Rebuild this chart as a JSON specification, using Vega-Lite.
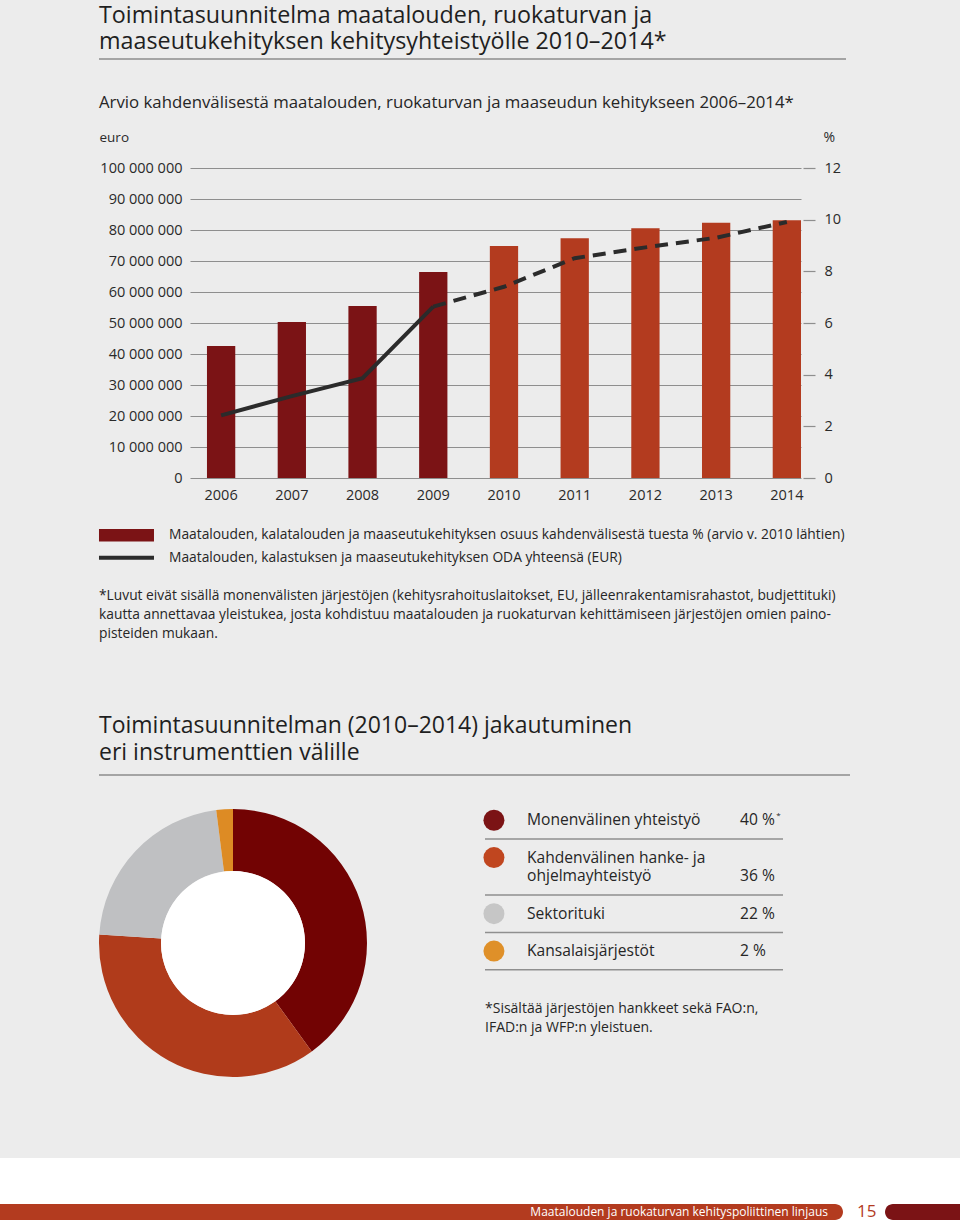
{
  "$schema": "https://vega.github.io/schema/vega-lite/v6.json",
  "background": "#ececec",
  "padding": {"top": 3, "left": 0, "right": 0, "bottom": 0},
  "config": {
    "view": {"stroke": null},
    "font": "Open Sans",
    "locale": {"number": {"decimal": ",", "thousands": " ", "grouping": [3], "currency": ["", " €"]}},
    "title": {"font": "Open Sans", "fontWeight": "normal", "color": "#1f1f1f", "anchor": "start"},
    "axis": {"labelFont": "Open Sans", "titleFont": "Open Sans", "labelColor": "#2a2a2a", "titleColor": "#2a2a2a", "titleFontWeight": "normal"},
    "text": {"font": "Open Sans", "color": "#262626"}
  },
  "spacing": 81,
  "resolve": {"scale": {"color": "independent", "fill": "independent", "shape": "independent"}},
  "vconcat": [
    {
      "spacing": 0,
      "resolve": {"scale": {"color": "independent", "fill": "independent", "shape": "independent"}},
      "hconcat": [
        {"width": 98, "height": 10, "data": {"values": [{}]}, "mark": {"type": "text"}, "encoding": {"text": {"value": ""}}},
        {
          "columns": 1,
          "spacing": 0,
          "resolve": {"scale": {"color": "independent", "fill": "independent", "shape": "independent"}},
          "concat": [
            {
              "width": 747,
              "height": 35.6,
              "title": {"text": ["Toimintasuunnitelma maatalouden, ruokaturvan ja", "maaseutukehityksen kehitysyhteistyölle 2010–2014*"], "anchor": "start", "frame": "group", "fontSize": 23.3, "lineHeight": 26, "baseline": "top", "offset": 4},
              "data": {"values": [{}]},
              "mark": {"type": "rule", "color": "#8c8c8c", "strokeWidth": 1.5},
              "encoding": {"y": {"datum": 1, "type": "quantitative", "scale": {"domain": [0, 1]}, "axis": null}}
            },
            {
              "spacing": 0,
              "bounds": "flush",
              "resolve": {"scale": {"color": "independent", "fill": "independent", "shape": "independent"}},
              "hconcat": [
                {"width": 91, "height": 10, "data": {"values": [{}]}, "mark": {"type": "text"}, "encoding": {"text": {"value": ""}}},
                {
                  "width": 611,
                  "height": 310,
                  "title": {"text": "Arvio kahdenvälisestä maatalouden, ruokaturvan ja maaseudun kehitykseen 2006–2014*", "frame": "bounds", "anchor": "start", "fontSize": 16.8, "baseline": "alphabetic", "offset": 5, "color": "#262626"},
                  "data": {"values": [
                    {"year": 2006, "pct": 5.11, "eur": 20200000, "period": "2006–2009"},
                    {"year": 2007, "pct": 6.04, "eur": 26400000, "period": "2006–2009"},
                    {"year": 2008, "pct": 6.66, "eur": 32200000, "period": "2006–2009"},
                    {"year": 2009, "pct": 7.97, "eur": 55300000, "period": "2006–2009"},
                    {"year": 2010, "pct": 8.98, "eur": 61700000, "period": "2010–2014"},
                    {"year": 2011, "pct": 9.28, "eur": 70900000, "period": "2010–2014"},
                    {"year": 2012, "pct": 9.67, "eur": 74400000, "period": "2010–2014"},
                    {"year": 2013, "pct": 9.88, "eur": 77500000, "period": "2010–2014"},
                    {"year": 2014, "pct": 9.98, "eur": 82600000, "period": "2010–2014"}
                  ]},
                  "encoding": {
                    "x": {"field": "year", "type": "ordinal", "scale": {"paddingInner": 0.6, "paddingOuter": 0.12, "align": 1}, "axis": {"title": null, "labelAngle": 0, "ticks": false, "tickSize": 0, "domain": false, "labelPadding": 10, "labelFontSize": 14.5}}
                  },
                  "layer": [
                    {
                      "mark": {"type": "bar"},
                      "encoding": {
                        "y": {"field": "pct", "type": "quantitative", "scale": {"domain": [0, 12], "nice": false}, "axis": {"orient": "right", "values": [0, 2, 4, 6, 8, 10, 12], "grid": false, "domain": false, "ticks": true, "tickSize": 12, "tickColor": "#8e8e8e", "tickWidth": 1.2, "offset": 2, "labelPadding": 9, "labelFontSize": 14.5, "title": "%", "titleAngle": 0, "titleX": 20, "titleY": -27, "titleAlign": "left", "titleBaseline": "alphabetic", "titleFontSize": 14}},
                        "color": {"field": "period", "type": "nominal", "scale": {"domain": ["2006–2009", "2010–2014"], "range": ["#7b1315", "#b33b1f"]}, "legend": null}
                      }
                    },
                    {
                      "encoding": {
                        "y": {"field": "eur", "type": "quantitative", "scale": {"domain": [0, 100000000], "nice": false}, "axis": {"orient": "left", "values": [0, 10000000, 20000000, 30000000, 40000000, 50000000, 60000000, 70000000, 80000000, 90000000, 100000000], "format": ",d", "grid": true, "gridColor": "#8e8e8e", "gridWidth": 1.2, "domain": false, "ticks": false, "tickSize": 0, "labelPadding": 8, "labelFontSize": 14.5, "title": "euro", "titleAngle": 0, "titleX": -91, "titleY": -27, "titleAlign": "left", "titleBaseline": "alphabetic", "titleFontSize": 13.5}}
                      },
                      "layer": [
                        {"transform": [{"filter": "datum.year <= 2009"}], "mark": {"type": "line", "color": "#2b2b2b", "strokeWidth": 4}},
                        {"transform": [{"filter": "datum.year >= 2009"}], "mark": {"type": "line", "color": "#2b2b2b", "strokeWidth": 4, "strokeDash": [13, 8]}}
                      ]
                    }
                  ],
                  "resolve": {"scale": {"y": "independent"}}
                }
              ]
            },
            {"width": 10, "height": 21.75, "data": {"values": [{}]}, "mark": {"type": "point", "opacity": 0}},
            {
              "width": 747,
              "height": 45,
              "data": {"values": [
                {"series": "Maatalouden, kalatalouden ja maaseutukehityksen osuus kahdenvälisestä tuesta % (arvio v. 2010 lähtien)"},
                {"series": "Maatalouden, kalastuksen ja maaseutukehityksen ODA yhteensä (EUR)"}
              ]},
              "encoding": {
                "y": {"field": "series", "type": "nominal", "scale": {"type": "point", "domain": ["Maatalouden, kalatalouden ja maaseutukehityksen osuus kahdenvälisestä tuesta % (arvio v. 2010 lähtien)", "Maatalouden, kalastuksen ja maaseutukehityksen ODA yhteensä (EUR)"], "padding": 0.5}, "axis": null}
              },
              "layer": [
                {
                  "mark": {"type": "point", "filled": true, "opacity": 1, "size": 3025, "strokeWidth": 0},
                  "encoding": {
                    "x": {"datum": 0.0368, "type": "quantitative", "scale": {"domain": [0, 1]}, "axis": null},
                    "fill": {"field": "series", "type": "nominal", "scale": {"domain": ["Maatalouden, kalatalouden ja maaseutukehityksen osuus kahdenvälisestä tuesta % (arvio v. 2010 lähtien)", "Maatalouden, kalastuksen ja maaseutukehityksen ODA yhteensä (EUR)"], "range": ["#7b1315", "#2b2b2b"]}, "legend": null},
                    "shape": {"field": "series", "type": "nominal", "scale": {"domain": ["Maatalouden, kalatalouden ja maaseutukehityksen osuus kahdenvälisestä tuesta % (arvio v. 2010 lähtien)", "Maatalouden, kalastuksen ja maaseutukehityksen ODA yhteensä (EUR)"], "range": ["M-1,-0.227H1V0.227H-1Z", "M-1,-0.073H1V0.073H-1Z"]}, "legend": null}
                  }
                },
                {
                  "mark": {"type": "text", "align": "left", "baseline": "middle", "fontSize": 13.8},
                  "encoding": {
                    "x": {"datum": 0.0937, "type": "quantitative"},
                    "text": {"field": "series"}
                  }
                }
              ]
            },
            {"width": 10, "height": 19.95, "data": {"values": [{}]}, "mark": {"type": "point", "opacity": 0}},
            {
              "width": 747,
              "height": 55,
              "data": {"values": [{"text": ["*Luvut eivät sisällä monenvälisten järjestöjen (kehitysrahoituslaitokset, EU, jälleenrakentamisrahastot, budjettituki)", "kautta annettavaa yleistukea, josta kohdistuu maatalouden ja ruokaturvan kehittämiseen järjestöjen omien paino-", "pisteiden mukaan."]}]},
              "mark": {"type": "text", "align": "left", "baseline": "top", "fontSize": 13.8, "lineHeight": 18.75},
              "encoding": {
                "text": {"field": "text"},
                "x": {"datum": 0, "type": "quantitative", "scale": {"domain": [0, 1]}, "axis": null},
                "y": {"datum": 1, "type": "quantitative", "scale": {"domain": [0, 1]}, "axis": null}
              }
            },
            {"width": 10, "height": 70.3, "data": {"values": [{}]}, "mark": {"type": "point", "opacity": 0}},
            {
              "width": 751,
              "height": 34,
              "title": {"text": ["Toimintasuunnitelman (2010–2014) jakautuminen", "eri instrumenttien välille"], "anchor": "start", "frame": "group", "fontSize": 23, "lineHeight": 27, "baseline": "top", "offset": 9},
              "data": {"values": [{}]},
              "mark": {"type": "rule", "color": "#8c8c8c", "strokeWidth": 1.5},
              "encoding": {"y": {"datum": 1, "type": "quantitative", "scale": {"domain": [0, 1]}, "axis": null}}
            },
            {
              "spacing": 116,
              "resolve": {"scale": {"color": "independent", "fill": "independent", "shape": "independent"}},
              "hconcat": [
                {
                  "width": 268,
                  "height": 268,
                  "layer": [
                    {
                      "data": {"values": [
                        {"cat": "Monenvälinen yhteistyö", "share": 40, "order": 1},
                        {"cat": "Kahdenvälinen hanke- ja ohjelmayhteistyö", "share": 36, "order": 2},
                        {"cat": "Sektorituki", "share": 22, "order": 3},
                        {"cat": "Kansalaisjärjestöt", "share": 2, "order": 4}
                      ]},
                      "mark": {"type": "arc", "outerRadius": 134, "innerRadius": 72},
                      "encoding": {
                        "theta": {"field": "share", "type": "quantitative", "stack": true},
                        "order": {"field": "order", "type": "quantitative"},
                        "color": {"field": "cat", "type": "nominal", "scale": {"domain": ["Monenvälinen yhteistyö", "Kahdenvälinen hanke- ja ohjelmayhteistyö", "Sektorituki", "Kansalaisjärjestöt"], "range": ["#720303", "#b03b1b", "#bfc0c2", "#dd8b24"]}, "legend": null}
                      }
                    },
                    {
                      "data": {"values": [{}]},
                      "mark": {"type": "point", "shape": "circle", "size": 20736, "filled": true, "color": "#ffffff", "opacity": 1, "strokeWidth": 0}
                    }
                  ]
                },
                {
                  "spacing": 20.7,
                  "resolve": {"scale": {"color": "independent", "fill": "independent", "shape": "independent"}},
                  "vconcat": [
                    {
                      "width": 298,
                      "height": 172,
                      "layer": [
                        {
                          "data": {"values": [{"slot": 1}, {"slot": 4}, {"slot": 6}, {"slot": 8}]},
                          "mark": {"type": "rule", "color": "#8f8f8f", "strokeWidth": 1.5},
                          "encoding": {"y": {"field": "slot", "type": "ordinal", "scale": {"type": "point", "domain": [0, 1, 2, 3, 4, 5, 6, 7, 8], "padding": 0.6}, "axis": null}}
                        },
                        {
                          "data": {"values": [
                            {"slot": 0, "cat": "Monenvälinen yhteistyö", "text": "Monenvälinen yhteistyö", "pct": "40 %", "sup": "*"},
                            {"slot": 2, "cat": "Kahdenvälinen hanke- ja ohjelmayhteistyö", "text": "Kahdenvälinen hanke- ja"},
                            {"slot": 3, "text": "ohjelmayhteistyö", "pct": "36 %"},
                            {"slot": 5, "cat": "Sektorituki", "text": "Sektorituki", "pct": "22 %"},
                            {"slot": 7, "cat": "Kansalaisjärjestöt", "text": "Kansalaisjärjestöt", "pct": "2 %"}
                          ]},
                          "layer": [
                            {
                              "transform": [{"filter": "isValid(datum.cat)"}],
                              "mark": {"type": "point", "filled": true, "opacity": 1, "size": 441, "shape": "circle", "strokeWidth": 0},
                              "encoding": {
                                "y": {"field": "slot", "type": "ordinal", "axis": null},
                                "x": {"datum": 0.03, "type": "quantitative", "scale": {"domain": [0, 1]}, "axis": null},
                                "color": {"field": "cat", "type": "nominal", "scale": {"domain": ["Monenvälinen yhteistyö", "Kahdenvälinen hanke- ja ohjelmayhteistyö", "Sektorituki", "Kansalaisjärjestöt"], "range": ["#7b1315", "#c0461f", "#c6c6c6", "#df9029"]}, "legend": null}
                              }
                            },
                            {
                              "mark": {"type": "text", "align": "left", "baseline": "middle", "fontSize": 15.6},
                              "encoding": {
                                "y": {"field": "slot", "type": "ordinal", "axis": null},
                                "x": {"datum": 0.141, "type": "quantitative", "axis": null},
                                "text": {"field": "text"}
                              }
                            },
                            {
                              "transform": [{"filter": "isValid(datum.pct)"}],
                              "mark": {"type": "text", "align": "left", "baseline": "middle", "fontSize": 15.6},
                              "encoding": {
                                "y": {"field": "slot", "type": "ordinal", "axis": null},
                                "x": {"datum": 0.856, "type": "quantitative", "axis": null},
                                "text": {"field": "pct"}
                              }
                            },
                            {
                              "transform": [{"filter": "isValid(datum.sup)"}],
                              "mark": {"type": "text", "align": "left", "baseline": "bottom", "fontSize": 8},
                              "encoding": {
                                "y": {"field": "slot", "type": "ordinal", "axis": null},
                                "x": {"datum": 0.977, "type": "quantitative", "axis": null},
                                "text": {"field": "sup"}
                              }
                            }
                          ]
                        }
                      ]
                    },
                    {
                      "width": 298,
                      "height": 38,
                      "data": {"values": [{"text": ["*Sisältää järjestöjen hankkeet sekä FAO:n,", "IFAD:n ja WFP:n yleistuen."]}]},
                      "mark": {"type": "text", "align": "left", "baseline": "top", "fontSize": 14, "lineHeight": 19},
                      "encoding": {
                        "text": {"field": "text"},
                        "x": {"datum": 0, "type": "quantitative", "scale": {"domain": [0, 1]}, "axis": null},
                        "y": {"datum": 1, "type": "quantitative", "scale": {"domain": [0, 1]}, "axis": null}
                      }
                    }
                  ]
                }
              ]
            }
          ]
        }
      ]
    },
    {
      "width": 960,
      "height": 67,
      "view": {"fill": "#ffffff", "stroke": null},
      "data": {"values": [{}]},
      "layer": [
        {
          "mark": {"type": "rect", "color": "#b33b1f", "cornerRadiusTopRight": 8, "cornerRadiusBottomRight": 8},
          "encoding": {
            "x": {"datum": 0, "type": "quantitative", "scale": {"domain": [0, 960], "nice": false, "zero": false}, "axis": null},
            "x2": {"datum": 843},
            "y": {"datum": 46, "type": "quantitative", "scale": {"domain": [0, 67], "reverse": true, "nice": false, "zero": false}, "axis": null},
            "y2": {"datum": 62}
          }
        },
        {
          "mark": {"type": "rect", "color": "#7b1315", "cornerRadiusTopLeft": 8, "cornerRadiusBottomLeft": 8},
          "encoding": {
            "x": {"datum": 885, "type": "quantitative"},
            "x2": {"datum": 960},
            "y": {"datum": 46, "type": "quantitative"},
            "y2": {"datum": 62}
          }
        },
        {
          "mark": {"type": "text", "align": "right", "baseline": "middle", "fontSize": 12, "color": "#ffffff"},
          "encoding": {
            "x": {"datum": 828, "type": "quantitative"},
            "y": {"datum": 54, "type": "quantitative"},
            "text": {"value": "Maatalouden ja ruokaturvan kehityspoliittinen linjaus"}
          }
        },
        {
          "mark": {"type": "text", "align": "left", "baseline": "middle", "fontSize": 17, "color": "#b33b1f"},
          "encoding": {
            "x": {"datum": 857, "type": "quantitative"},
            "y": {"datum": 54, "type": "quantitative"},
            "text": {"value": "15"}
          }
        }
      ]
    }
  ]
}
